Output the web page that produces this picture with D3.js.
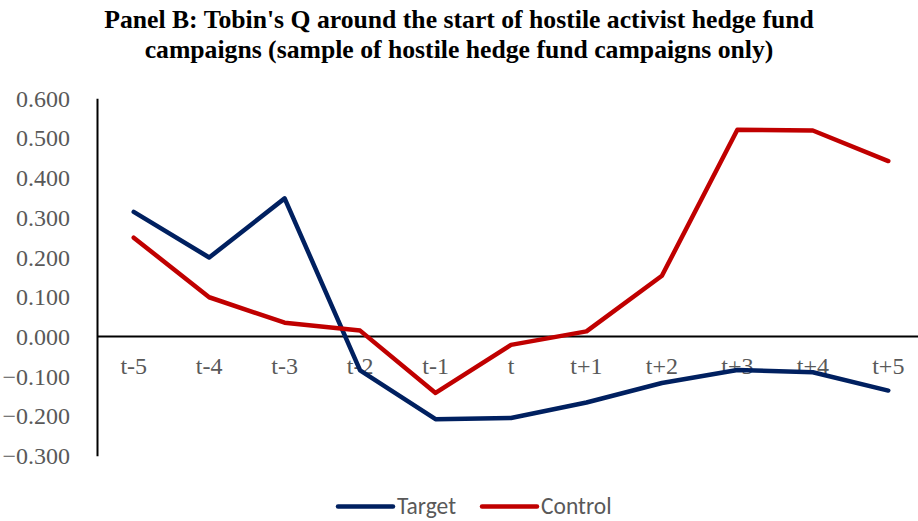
<!DOCTYPE html>
<html><head><meta charset="utf-8">
<script src="https://cdn.jsdelivr.net/npm/d3@7"></script>
<style>body{margin:0;background:#fff;}svg{display:block;}</style>
</head><body>
<script>
const categories = ["t-5","t-4","t-3","t-2","t-1","t","t+1","t+2","t+3","t+4","t+5"];
const targetValues = [0.314,0.199,0.348,-0.085,-0.208,-0.205,-0.166,-0.117,-0.084,-0.090,-0.136];
const controlValues = [0.249,0.099,0.035,0.015,-0.142,-0.021,0.013,0.153,0.521,0.519,0.442];
const yTicks = [-0.3,-0.2,-0.1,0,0.1,0.2,0.3,0.4,0.5,0.6];
const titleLines = ["Panel B: Tobin's Q around the start of hostile activist hedge fund","campaigns (sample of hostile hedge fund campaigns only)"];
const seriesNames = ["Target","Control"];
const colors = ["#002060","#C00000"];

const W = 918, H = 521;
const svg = d3.select("body").append("svg").attr("width",W).attr("height",H);

const x = d3.scaleBand().domain(categories).range([96, 926]);
const y = d3.scaleLinear().domain([-0.3,0.6]).range([455.7, 98.3]);

// title
svg.append("g").selectAll("text").data(titleLines).join("text")
  .attr("x",459).attr("y",(d,i)=>28+i*30)
  .attr("text-anchor","middle")
  .attr("font-family","'Liberation Serif','Times New Roman',serif")
  .attr("font-weight","bold").attr("font-size",25.7).attr("fill","#000")
  .text(d=>d);

// y axis
const yAxis = svg.append("g").attr("transform","translate(97,0)")
  .call(d3.axisLeft(y).tickValues(yTicks).tickFormat(d3.format(".3f")).tickSize(0).tickPadding(27));
yAxis.select(".domain").attr("stroke","#000").attr("stroke-width",2);
yAxis.selectAll("text").attr("font-family","'Liberation Serif','Times New Roman',serif")
  .attr("font-size",24).attr("fill","#595959").attr("dy","0.33em");

// zero line
svg.append("line").attr("x1",97).attr("x2",918).attr("y1",y(0)).attr("y2",y(0))
  .attr("stroke","#000").attr("stroke-width",2);

// x labels
const xAxis = svg.append("g").attr("transform",`translate(0,${y(0)})`)
  .call(d3.axisBottom(x).tickSize(0).tickPadding(0));
xAxis.select(".domain").remove();
xAxis.selectAll("text").attr("font-family","'Liberation Serif','Times New Roman',serif")
  .attr("font-size",24).attr("fill","#595959").attr("y",30).attr("dy","0.33em");

const line = d3.line().x((d,i)=>x(categories[i])+x.bandwidth()/2).y(d=>y(d));
[targetValues, controlValues].forEach((vals,k)=>{
  svg.append("path").datum(vals).attr("d",line).attr("fill","none")
    .attr("stroke",colors[k]).attr("stroke-width",4.5)
    .attr("stroke-linejoin","round").attr("stroke-linecap","round");
});

// legend
const legX = [338, 482];
seriesNames.forEach((n,k)=>{
  svg.append("line").attr("x1",legX[k]).attr("x2",legX[k]+55).attr("y1",506.5).attr("y2",506.5)
    .attr("stroke",colors[k]).attr("stroke-width",4.5).attr("stroke-linecap","round");
  svg.append("text").attr("x",legX[k]+59).attr("y",505.5).attr("dy","0.35em")
    .attr("font-family","Carlito,'Open Sans','Liberation Sans',sans-serif").attr("font-size",23.5)
    .attr("fill","#595959").text(n);
});
</script>
</body></html>
